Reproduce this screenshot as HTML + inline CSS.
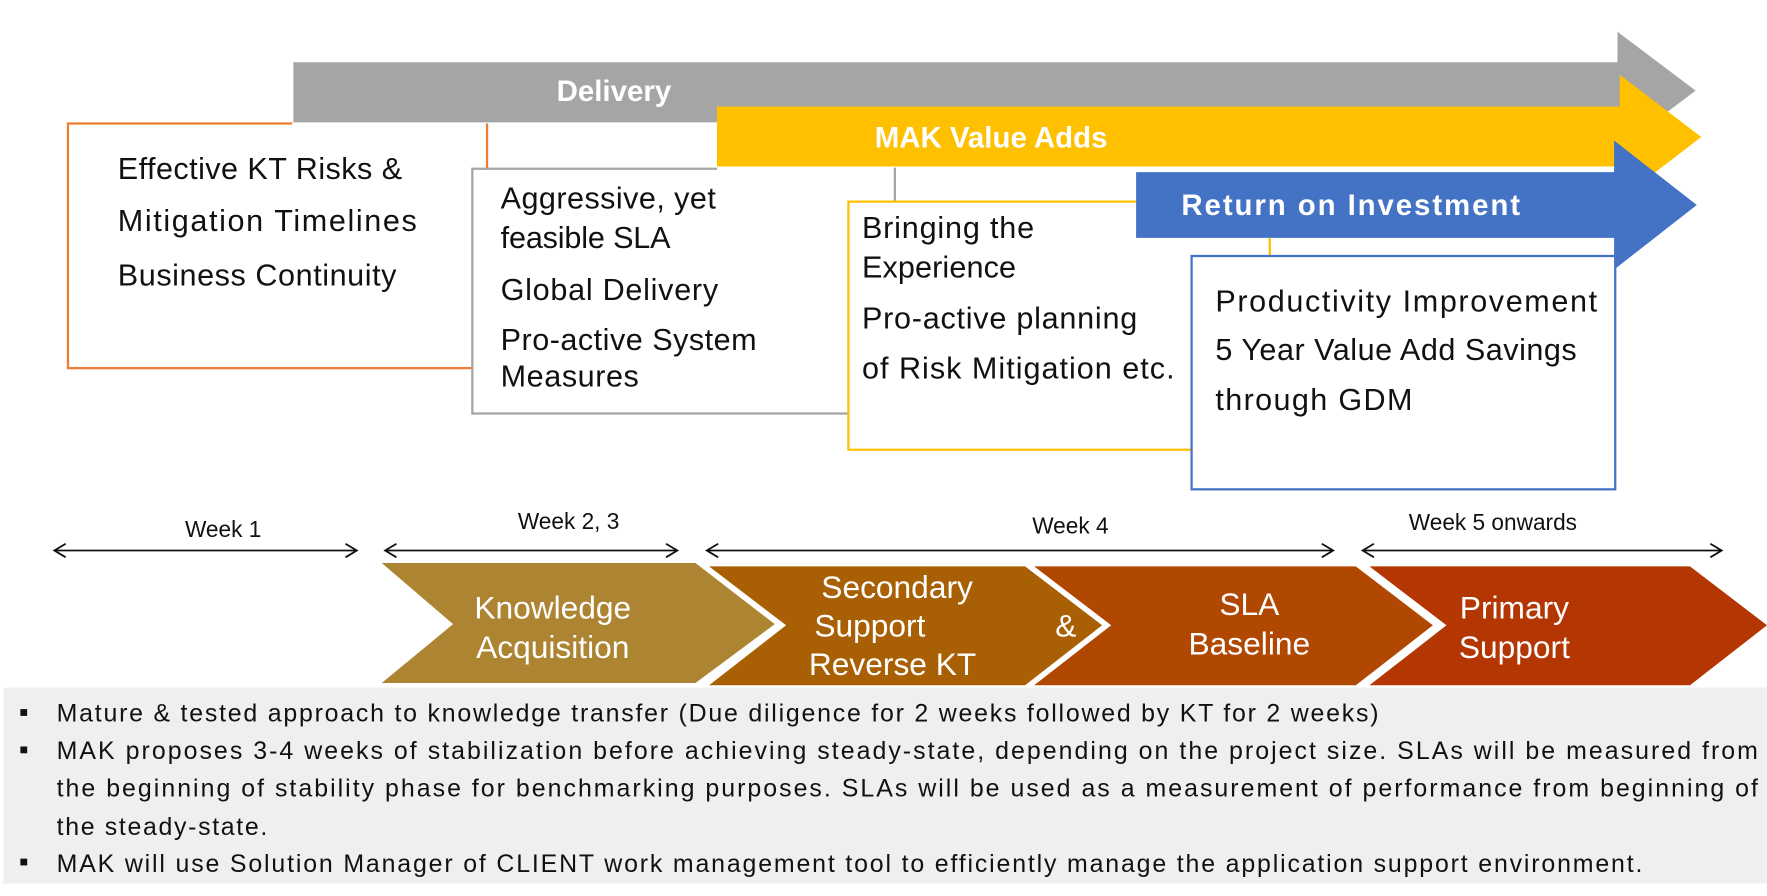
<!DOCTYPE html>
<html><head><meta charset="utf-8"><style>html,body{margin:0;padding:0;background:#fff}svg{display:block}</style></head>
<body>
<svg width="1767" height="896" viewBox="0 0 1560 791" preserveAspectRatio="none" font-family="Liberation Sans, sans-serif">
<polygon points="259,55 1428,55 1428,28 1497,80 1428,132 1428,108 259,108" fill="#a5a5a5"/>
<text x="542" y="89" fill="#fff" font-size="26" font-weight="bold" text-anchor="middle">Delivery</text>
<polyline points="258,109 60,109 60,325 417,325" fill="none" stroke="#ed7d31" stroke-width="2"/>
<line x1="430" y1="109" x2="430" y2="150" stroke="#ed7d31" stroke-width="2"/>
<g font-size="27" fill="#111">
<text x="104" y="158" textLength="251">Effective KT  Risks &amp;</text>
<text x="104" y="204" textLength="264">Mitigation  Timelines</text>
<text x="104" y="252" textLength="246">Business Continuity</text>
</g>
<polygon points="633,94 1430,94 1430,66 1502,121 1430,176 1430,147 633,147" fill="#ffc000"/>
<text x="875" y="130" fill="#fff" font-size="26" font-weight="bold" text-anchor="middle">MAK Value Adds</text>
<polyline points="633,149 417,149 417,365 749,365" fill="none" stroke="#a5a5a5" stroke-width="2"/>
<line x1="790" y1="148" x2="790" y2="178" stroke="#a5a5a5" stroke-width="2"/>
<g font-size="27" fill="#111">
<text x="442" y="184" textLength="190">Aggressive, yet</text>
<text x="442" y="219" textLength="150">feasible SLA</text>
<text x="442" y="265" textLength="192">Global Delivery</text>
<text x="442" y="309" textLength="226">Pro-active System</text>
<text x="442" y="341" textLength="122">Measures</text>
</g>
<polygon points="1003,152 1425,152 1425,124 1498,181 1425,238 1425,210 1003,210" fill="#4472c4"/>
<text x="1043" y="190" fill="#fff" font-size="26" font-weight="bold" textLength="299">Return on Investment</text>
<polyline points="1003,178 749,178 749,397 1052,397" fill="none" stroke="#ffc000" stroke-width="2"/>
<line x1="1121" y1="210" x2="1121" y2="226" stroke="#ffc000" stroke-width="2"/>
<g font-size="27" fill="#111">
<text x="761" y="210" textLength="152">Bringing the</text>
<text x="761" y="245" textLength="136">Experience</text>
<text x="761" y="290" textLength="243">Pro-active planning</text>
<text x="761" y="334" textLength="276">of Risk Mitigation etc.</text>
</g>
<rect x="1052" y="226" width="374" height="206" fill="#fff" stroke="#4472c4" stroke-width="2"/>
<g font-size="27" fill="#111">
<text x="1073" y="275" textLength="337">Productivity  Improvement</text>
<text x="1073" y="318" textLength="319">5 Year Value Add  Savings</text>
<text x="1073" y="362" textLength="174">through GDM</text>
</g>
<g font-size="20" fill="#111" text-anchor="middle">
<text x="197" y="474">Week 1</text>
<text x="502" y="467">Week 2, 3</text>
<text x="945" y="471">Week 4</text>
<text x="1318" y="468">Week 5 onwards</text>
</g>
<g stroke="#111" stroke-width="1.6" fill="none">
<line x1="48" y1="486" x2="315" y2="486"/><polyline points="58,480 48,486 58,492"/><polyline points="305,480 315,486 305,492"/>
<line x1="340" y1="486" x2="598" y2="486"/><polyline points="350,480 340,486 350,492"/><polyline points="588,480 598,486 588,492"/>
<line x1="624" y1="486" x2="1177" y2="486"/><polyline points="634,480 624,486 634,492"/><polyline points="1167,480 1177,486 1167,492"/>
<line x1="1203" y1="486" x2="1520" y2="486"/><polyline points="1213,480 1203,486 1213,492"/><polyline points="1510,480 1520,486 1510,492"/>
</g>
<polygon points="337,497 614,497 684,551 614,603 337,603 400,551" fill="#ad8432"/>
<polygon points="626,500 905,500 973,552 905,605 626,605 694,552" fill="#a95f03"/>
<polygon points="913,500 1197,500 1265,552 1197,605 913,605 981,552" fill="#b04802"/>
<polygon points="1209,500 1492,500 1560,552 1492,605 1209,605 1277,552" fill="#b43602"/>
<g font-size="28" fill="#fff">
<text x="488" y="546" text-anchor="middle">Knowledge</text>
<text x="488" y="581" text-anchor="middle">Acquisition</text>
<text x="792" y="528" text-anchor="middle">Secondary</text>
<text x="768" y="562" text-anchor="middle">Support</text>
<text x="788" y="596" text-anchor="middle">Reverse KT</text>
<text x="941" y="562" text-anchor="middle">&amp;</text>
<text x="1103" y="543" text-anchor="middle">SLA</text>
<text x="1103" y="578" text-anchor="middle">Baseline</text>
<text x="1337" y="546" text-anchor="middle">Primary</text>
<text x="1337" y="581" text-anchor="middle">Support</text>
</g>
<rect x="3" y="607" width="1557" height="173" fill="#efefef"/>
<g fill="#111">
<rect x="18" y="626" width="6" height="6"/><rect x="18" y="659" width="6" height="6"/><rect x="18" y="758" width="6" height="6"/>
</g>
<g font-size="22" fill="#111">
<text x="50" y="637" textLength="1167">Mature &amp; tested approach to knowledge transfer (Due diligence for 2 weeks followed by KT for 2 weeks)</text>
<text x="50" y="670" textLength="1502">MAK proposes 3-4 weeks of stabilization before achieving steady-state, depending on the project size. SLAs will be  measured from</text>
<text x="50" y="703" textLength="1502">the beginning of stability phase for benchmarking purposes. SLAs will be used as a measurement of  performance from beginning of</text>
<text x="50" y="737" textLength="186">the steady-state.</text>
<text x="50" y="770" textLength="1400">MAK will use Solution Manager of CLIENT work management tool to efficiently manage the application support environment.</text>
</g>
</svg>
</body></html>
